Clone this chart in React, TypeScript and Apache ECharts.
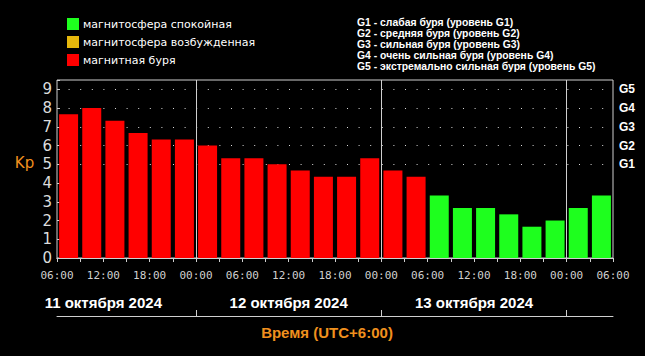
import React, { useEffect, useRef } from 'react';
import * as echarts from 'echarts';

// ---- data ----
const kpValues = [7.67, 8.0, 7.33, 6.67, 6.33, 6.33, 6.0, 5.33, 5.33, 5.0, 4.67, 4.33, 4.33, 5.33, 4.67, 4.33, 3.33, 2.67, 2.67, 2.33, 1.67, 2.0, 2.67, 3.33];
const kpStatus = [
  'storm', 'storm', 'storm', 'storm', 'storm', 'storm',
  'storm', 'storm', 'storm', 'storm', 'storm', 'storm', 'storm', 'storm',
  'storm', 'storm', 'quiet', 'quiet', 'quiet', 'quiet', 'quiet', 'quiet',
  'quiet', 'quiet',
];
const startHour = 6; // first bar starts 06:00, 11 Oct
const stepHours = 3;
const dateLabels = ['11 октября 2024', '12 октября 2024', '13 октября 2024'];
const legendNames = ['магнитосфера спокойная', 'магнитосфера возбужденная', 'магнитная буря'];
const legendColors = ['#1eff1e', '#e6b80c', '#ff0000'];
const statusKeys = ['quiet', 'active', 'storm'];
const gLevels = ['G1', 'G2', 'G3', 'G4', 'G5'];
const gDescriptions = [
  'G1 - слабая буря (уровень G1)',
  'G2 - средняя буря (уровень G2)',
  'G3 - сильная буря (уровень G3)',
  'G4 - очень сильная буря (уровень G4)',
  'G5 - экстремально сильная буря (уровень G5)',
];
const axisTitle = 'Время (UTC+6:00)';
const yName = 'Kp';

const totalHours = kpValues.length * stepHours;
const orange = '#f0901e';
const lineGray = '#cfcfcf';

export default function App() {
  const ref = useRef<HTMLDivElement>(null);
  useEffect(() => {
    if (!ref.current) return;
    const chart = echarts.init(ref.current, null, { renderer: 'svg' });
    const points = kpValues.map((v, i) => ({ x: i * stepHours + stepHours / 2, v, s: kpStatus[i] }));
    const dayBounds = dateLabels.map((_, i) => (24 - startHour) + 24 * i);
    const dayNoons = dateLabels.map((_, i) => (12 - startHour) + 24 * i);
    const fmtHour = (v: number) => {
      if (v % 6 !== 0) return '';
      const h = (startHour + v) % 24;
      return (h < 10 ? '0' : '') + h + ':00';
    };
    const splitColors = Array.from({ length: 11 }, (_, i) => (i >= 5 && i <= 9 ? '#d8d8d8' : 'rgba(0,0,0,0)'));

    const series: any[] = statusKeys.map((key, k) => ({
      type: 'bar',
      name: legendNames[k],
      xAxisIndex: 0,
      yAxisIndex: 0,
      barWidth: 19,
      barGap: '-100%',
      itemStyle: { color: legendColors[k] },
      data: points.filter((p) => p.s === key).map((p) => [p.x, p.v]),
    }));
    series[2].markLine = {
      silent: true,
      symbol: ['none', 'none'],
      label: { show: false },
      lineStyle: { color: lineGray, type: 'solid', width: 1 },
      data: dayBounds.map((d) => ({ xAxis: d })),
    };

    chart.setOption({
      animation: false,
      backgroundColor: '#000',
      legend: {
        orient: 'vertical',
        left: 62,
        top: 13,
        padding: 5,
        itemWidth: 12,
        itemHeight: 12,
        itemGap: 6,
        icon: 'rect',
        selectedMode: false,
        data: legendNames,
        textStyle: { color: '#fff', fontFamily: 'DejaVu Sans', fontSize: 11, lineHeight: 12, padding: [0, 0, 0, -1] },
      },
      grid: { left: 57, right: 32, top: 80, bottom: 98, show: true, borderColor: lineGray, borderWidth: 1, containLabel: false },
      xAxis: [
        {
          type: 'value', min: 0, max: totalHours, interval: stepHours, position: 'bottom',
          axisLine: { show: true, lineStyle: { color: lineGray } },
          axisTick: { show: true, length: 4, lineStyle: { color: lineGray } },
          axisLabel: { color: '#d0d0d0', fontFamily: 'DejaVu Sans Mono', fontSize: 11, margin: 12, formatter: fmtHour },
          splitLine: { show: false },
        },
        {
          type: 'value', min: 0, max: totalHours, position: 'bottom', offset: 31,
          axisLine: { show: true, lineStyle: { color: lineGray } },
          axisTick: { show: true, inside: true, length: 31, customValues: dayBounds, lineStyle: { color: lineGray } },
          axisLabel: {
            show: true, customValues: dayNoons, margin: 6, color: '#fff',
            fontFamily: 'Liberation Sans', fontWeight: 'bold', fontSize: 15,
            formatter: (v: number) => { const i = dayNoons.indexOf(v); return i >= 0 ? dateLabels[i] : ''; },
          },
          splitLine: { show: false },
        },
        {
          type: 'value', min: 0, max: totalHours, position: 'bottom', offset: 58,
          axisLine: { show: true, lineStyle: { color: lineGray } },
          axisTick: { show: true, inside: true, length: 6, customValues: dayBounds, lineStyle: { color: lineGray } },
          axisLabel: { show: false },
          splitLine: { show: false },
        },
      ],
      yAxis: [
        {
          type: 'value', min: 0, max: 9.5, interval: 1, position: 'left',
          axisLine: { show: false }, axisTick: { show: false },
          axisLabel: { color: '#dcdcdc', fontFamily: 'DejaVu Sans', fontSize: 15, margin: 5, formatter: (v: number) => (Number.isInteger(v) ? String(v) : '') },
          splitLine: { show: true, lineStyle: { color: splitColors, type: [1, 10.6], width: 1 } },
        },
        {
          type: 'value', min: 0, max: 9.5, interval: 1, position: 'right',
          axisLine: { show: false },
          axisTick: { show: true, length: 3, lineStyle: { color: lineGray } },
          axisLabel: {
            color: '#fff', fontFamily: 'Liberation Sans', fontWeight: 'bold', fontSize: 12, margin: 6,
            formatter: (v: number) => (Number.isInteger(v) && v >= 5 && v <= 9 ? gLevels[v - 5] : ''),
          },
          splitLine: { show: false },
        },
      ],
      graphic: [
        {
          type: 'text', x: 357, y: 16.5,
          style: { text: gDescriptions.join('\n'), fill: '#fff', font: 'bold 10.4px "Liberation Sans"', lineHeight: 11 },
        },
        {
          type: 'text', x: 24.5, y: 163,
          style: { text: yName, fill: orange, font: '15px "DejaVu Sans"', textAlign: 'center', textVerticalAlign: 'middle', align: 'center', verticalAlign: 'middle' },
        },
        {
          type: 'text', x: 327, y: 332,
          style: { text: axisTitle, fill: orange, font: 'bold 15px "Liberation Sans"', textAlign: 'center', textVerticalAlign: 'middle', align: 'center', verticalAlign: 'middle' },
        },
      ],
      series,
    });
    return () => chart.dispose();
  }, []);
  return <div ref={ref} style={{ position: 'fixed', left: 0, top: 0, width: 645, height: 356 }} />;
}
